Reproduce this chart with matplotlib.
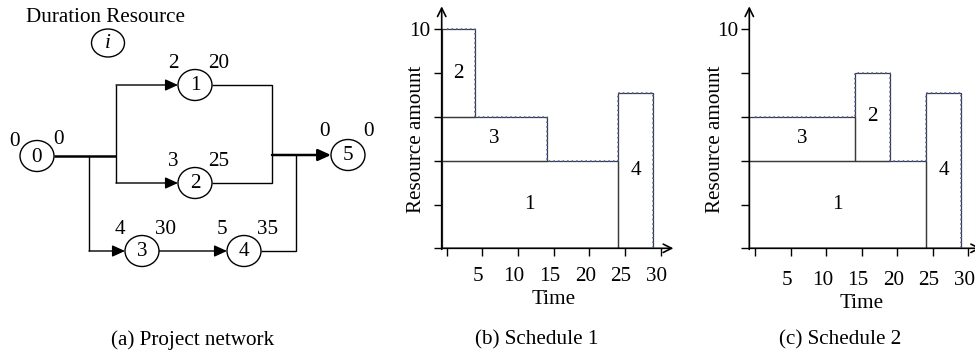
import matplotlib
matplotlib.use("Agg")
import matplotlib.pyplot as plt
from matplotlib.patches import Ellipse, Rectangle, FancyArrowPatch
from matplotlib.transforms import ScaledTranslation

plt.rcParams['font.family'] = ['Liberation Serif', 'DejaVu Serif']

# ---------------- data ----------------
# network (a)
nodes = [0, 1, 2, 3, 4, 5]
node_duration = [0, 2, 3, 4, 5, 0]
node_resource = [0, 20, 25, 30, 35, 0]

# schedules (b), (c)
activities = [1, 3, 2, 4]             # stacking order
act_height = [4, 2, 4, 7.1]           # resource amount
sched1_start = [0, 0, 0, 24]
sched1_end = [24, 14, 4, 29]
sched2_start = [0, 0, 14, 24]
sched2_end = [24, 14, 19, 29]
x_ticks = [0, 5, 10, 15, 20, 25, 30]
x_ticklabels = ['', '5', '10', '15', '20', '25', '30']
y_ticks = [0, 2, 4, 6, 8, 10]
y_ticklabels = ['', '', '', '', '', '10']
captions = ['(a) Project network', '(b) Schedule 1', '(c) Schedule 2']

FS = 15.2
W, H = 975, 355
fig = plt.figure(figsize=(W / 100, H / 100), dpi=100)

# ---------------- (a) network, pixel coordinates ----------------
axn = fig.add_axes([0, 0, 1, 1])
axn.set_xlim(0, W)
axn.set_ylim(H, 0)
axn.axis('off')

pos = {0: (37, 156), 1: (195, 85), 2: (195, 183), 3: (142, 251), 4: (244, 251), 5: (348, 155)}
ew, eh = 34, 31
thin, thick = 1.0, 1.8

def line(xs, ys, lw=thin):
    axn.plot(xs, ys, color='black', lw=lw, solid_capstyle='butt', solid_joinstyle='miter')

def arrow(x0, x1, y, lw=thin):
    axn.add_patch(FancyArrowPatch((x0, y), (x1, y), arrowstyle='-|>,head_length=0.55,head_width=0.25',
                                  mutation_scale=14, color='black', lw=lw, shrinkA=0, shrinkB=0))

# edges
line([54, 116], [156, 156], thick)
line([116, 116], [85, 183])
arrow(116, 178, 85)
arrow(116, 178, 183)
line([89, 89], [156, 251])
arrow(89, 125, 251)
arrow(159, 227, 251)
line([212, 272, 272, 212], [85, 85, 183, 183])
line([261, 296, 296], [251, 251, 155])
arrow(272, 331, 155, thick)

for n in nodes:
    cx, cy = pos[n]
    axn.add_patch(Ellipse((cx, cy), ew, eh, fill=True, fc='white', ec='black', lw=1.0, zorder=3))
    axn.text(cx, cy + 1, str(n), ha='center', va='center', fontsize=FS, zorder=4)
    if n in (0, 5):
        dy = -15 if n == 0 else -23
        axn.text(cx - 23, cy + dy, str(node_duration[n]), ha='center', va='center', fontsize=FS)
        axn.text(cx + 21, cy + dy - 1, str(node_resource[n]), ha='center', va='center', fontsize=FS)
    else:
        axn.text(cx - 22, cy - 22, str(node_duration[n]), ha='center', va='center', fontsize=FS)
        axn.text(cx + 24, cy - 22, str(node_resource[n]), ha='center', va='center', fontsize=FS)

axn.text(26, 17, 'Duration Resource', ha='left', va='center', fontsize=FS)
axn.add_patch(Ellipse((108, 43), 33, 28, fill=False, ec='black', lw=1.0))
axn.text(108, 43, 'i', ha='center', va='center', fontsize=FS, style='italic')

for cx, txt in zip([193, 537, 840], captions):
    axn.text(cx, 340, txt, ha='center', va='center', fontsize=FS)

# ---------------- (b), (c) schedules ----------------
def schedule(left_px, x_left, scale, starts, ends, xpad, ylab_right, xlab_top):
    x_right = 31.8
    y_top = 11.05
    yscale = 21.9
    bottom_px = H - 248.3
    w_px = (x_right - x_left) * scale
    h_px = y_top * yscale
    ax = fig.add_axes([left_px / W, bottom_px / H, w_px / W, h_px / H])
    ax.set_xlim(x_left, x_right)
    ax.set_ylim(0, y_top)
    ax.patch.set_alpha(0)
    for s in ax.spines.values():
        s.set_visible(False)
    # axes with open arrowheads
    ax.annotate('', xy=(x_right, 0), xytext=(x_left, 0), xycoords='data',
                arrowprops=dict(arrowstyle='->,head_length=0.6,head_width=0.3', lw=1.2, color='black',
                                shrinkA=0, shrinkB=0), annotation_clip=False)
    ax.annotate('', xy=(x_left, y_top), xytext=(x_left, -0.05), xycoords='data',
                arrowprops=dict(arrowstyle='->,head_length=0.6,head_width=0.3', lw=1.2, color='black',
                                shrinkA=0, shrinkB=0), annotation_clip=False)
    ax.set_xticks(x_ticks)
    ax.set_xticklabels(x_ticklabels)
    ax.set_yticks(y_ticks)
    ax.set_yticklabels(y_ticklabels)
    ax.tick_params(axis='both', direction='out', length=6, width=1.0, labelsize=FS, color='black')
    ax.tick_params(axis='x', pad=xpad)
    ax.tick_params(axis='y', pad=2)
    shift = ScaledTranslation(-4 / 100, 0, fig.dpi_scale_trans)
    for lab in ax.get_xticklabels():
        lab.set_transform(lab.get_transform() + shift)
    ax.set_xlabel('Time', fontsize=FS)
    ax.set_ylabel('Resource amount', fontsize=FS)
    ax.yaxis.set_label_coords((ylab_right - left_px) / w_px, (248.3 - 139) / h_px)
    ax.xaxis.set_label_coords(0.5 - 4 / w_px, -(xlab_top - 248.3) / h_px)

    # stacked blocks
    placed = []
    for a, h, s, e in zip(activities, act_height, starts, ends):
        base = sum(ph for (ps, pe, pb, ph) in placed if ps < e and s < pe)
        x0 = s if s > 0 else x_left
        ax.add_patch(Rectangle((x0, base), e - x0, h, fill=False, ec='#3a3a3a', lw=0.9, zorder=2))
        ax.text((x0 + e) / 2, base + h / 2, str(a), ha='center', va='center', fontsize=FS)
        placed.append((s, e, base, h))

    # resource profile (dotted)
    times = sorted(set(starts) | set(ends))
    px, py = [], []
    for t0, t1 in zip(times[:-1], times[1:]):
        lvl = sum(h for h, s, e in zip(act_height, starts, ends) if s <= t0 and e >= t1)
        px += [t0, t1]
        py += [lvl, lvl]
    px.append(times[-1])
    py.append(0)
    ax.plot(px, py, color='#4a5fb5', lw=1.1, ls=(0, (1, 2)), zorder=3)
    return ax

schedule(441.7, -0.7, 7.13, sched1_start, sched1_end, 7.5, 426, 290)
schedule(749.3, -0.85, 7.1, sched2_start, sched2_end, 10, 725, 294)

fig.savefig('out.png', dpi=100)
